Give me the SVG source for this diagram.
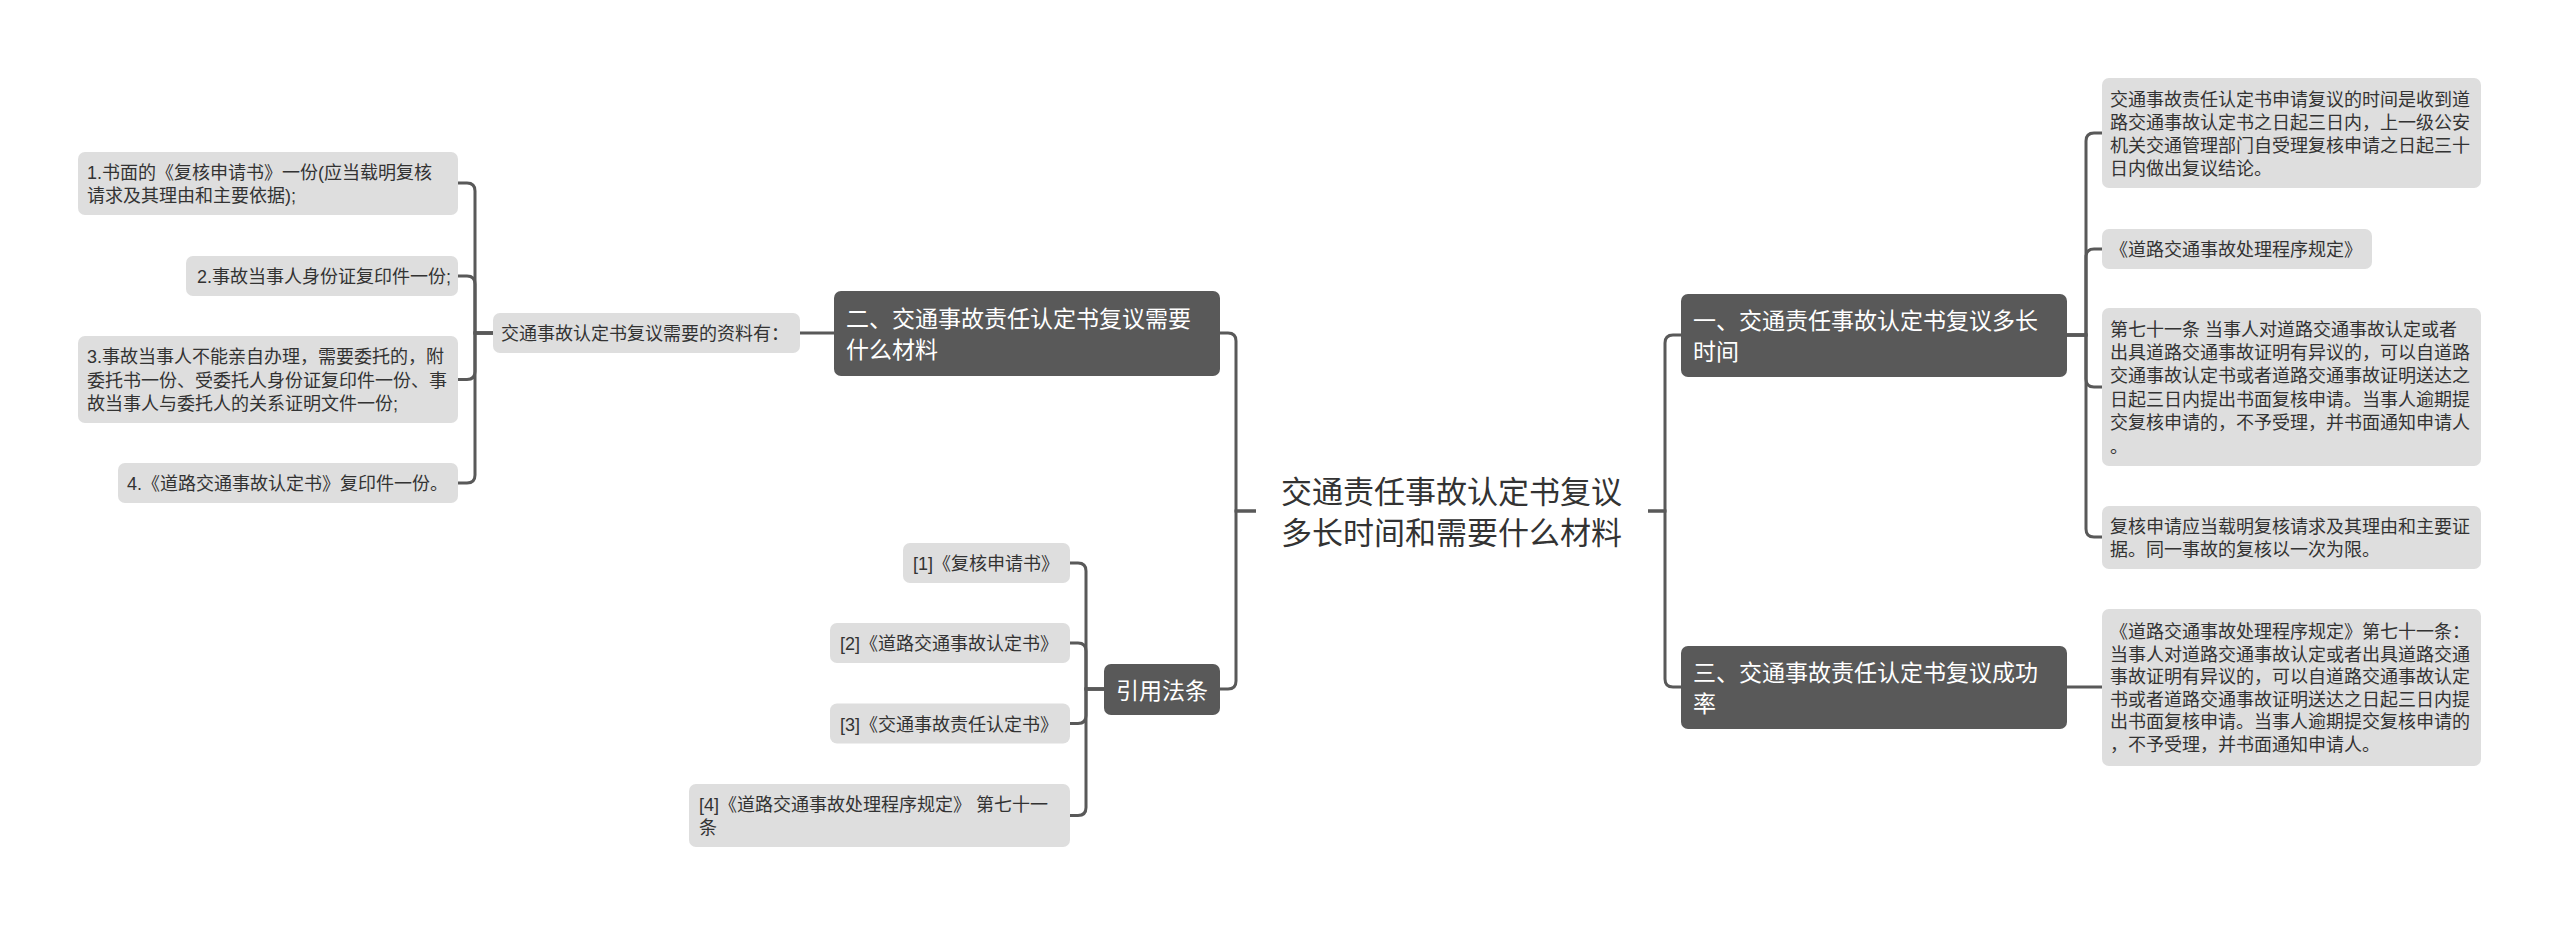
<svg xmlns="http://www.w3.org/2000/svg" width="2560" height="926" viewBox="0 0 2560 926">
<style>
text{font-family:"Liberation Sans","Noto Sans CJK SC",sans-serif}
.lt{fill:#dedede}
.dk{fill:#595959}
.t{font-size:18px;fill:#333333}
.w{font-size:23px;fill:#ffffff}
.c{font-size:31px;fill:#333333}
.ln{fill:none;stroke:#595959;stroke-width:3}
</style>
<rect width="2560" height="926" fill="#ffffff"/>
<g id="connectors">
<path class="ln" d="M493,333 H475 V191 Q475,183 467,183 H458"/>
<path class="ln" d="M493,333 H475 V284 Q475,276 467,276 H458"/>
<path class="ln" d="M493,333 H475 V371.5 Q475,379.5 467,379.5 H458"/>
<path class="ln" d="M493,333 H475 V475 Q475,483 467,483 H458"/>
<path class="ln" d="M800,333 H834"/>
<path class="ln" d="M1256,511 H1236 V341 Q1236,333 1228,333 H1220"/>
<path class="ln" d="M1256,511 H1236 V681 Q1236,689 1228,689 H1220"/>
<path class="ln" d="M1104,689 H1086 V571 Q1086,563 1078,563 H1070"/>
<path class="ln" d="M1104,689 H1086 V651 Q1086,643 1078,643 H1070"/>
<path class="ln" d="M1104,689 H1086 V715.5 Q1086,723.5 1078,723.5 H1070"/>
<path class="ln" d="M1104,689 H1086 V807.5 Q1086,815.5 1078,815.5 H1070"/>
<path class="ln" d="M1648,511 H1665 V343 Q1665,335 1673,335 H1681"/>
<path class="ln" d="M1648,511 H1665 V679 Q1665,687 1673,687 H1681"/>
<path class="ln" d="M2067,335 H2086 V141 Q2086,133 2094,133 H2102"/>
<path class="ln" d="M2067,335 H2086 V257 Q2086,249 2094,249 H2102"/>
<path class="ln" d="M2067,335 H2086 V379 Q2086,387 2094,387 H2102"/>
<path class="ln" d="M2067,335 H2086 V529 Q2086,537 2094,537 H2102"/>
<path class="ln" d="M2067,687 H2102"/>
</g>
<g id="center">
<text class="c" x="1281" y="503">交通责任事故认定书复议</text>
<text class="c" x="1281" y="544">多长时间和需要什么材料</text>
</g>
<g id="n-er">
<rect class="dk" x="834" y="291" width="386" height="85" rx="7"/>
<text class="w" x="846" y="327">二、交通事故责任认定书复议需要</text>
<text class="w" x="846" y="358">什么材料</text>
</g>
<g id="n-ziliao">
<rect class="lt" x="493" y="313" width="307" height="40" rx="7"/>
<text class="t" x="501" y="340">交通事故认定书复议需要的资料有：</text>
</g>
<g id="n-l1">
<rect class="lt" x="78" y="152" width="380" height="63" rx="7"/>
<text class="t" x="87" y="179">1.书面的《复核申请书》一份(应当载明复核</text>
<text class="t" x="87" y="202">请求及其理由和主要依据);</text>
</g>
<g id="n-l2">
<rect class="lt" x="186" y="256" width="272" height="40" rx="7"/>
<text class="t" x="197" y="283">2.事故当事人身份证复印件一份;</text>
</g>
<g id="n-l3">
<rect class="lt" x="78" y="336" width="380" height="87" rx="7"/>
<text class="t" x="87" y="363">3.事故当事人不能亲自办理，需要委托的，附</text>
<text class="t" x="87" y="386.5">委托书一份、受委托人身份证复印件一份、事</text>
<text class="t" x="87" y="410">故当事人与委托人的关系证明文件一份;</text>
</g>
<g id="n-l4">
<rect class="lt" x="118" y="463" width="340" height="40" rx="7"/>
<text class="t" x="127" y="490">4.《道路交通事故认定书》复印件一份。</text>
</g>
<g id="n-yinyong">
<rect class="dk" x="1104" y="664" width="116" height="51" rx="7"/>
<text class="w" x="1116" y="698.5">引用法条</text>
</g>
<g id="n-r1">
<rect class="lt" x="903" y="543" width="167" height="40" rx="7"/>
<text class="t" x="913" y="570">[1]《复核申请书》</text>
</g>
<g id="n-r2">
<rect class="lt" x="830" y="623" width="240" height="40" rx="7"/>
<text class="t" x="840" y="650">[2]《道路交通事故认定书》</text>
</g>
<g id="n-r3">
<rect class="lt" x="830" y="703.5" width="240" height="40" rx="7"/>
<text class="t" x="840" y="730.5">[3]《交通事故责任认定书》</text>
</g>
<g id="n-r4">
<rect class="lt" x="689" y="784" width="381" height="63" rx="7"/>
<text class="t" x="699" y="811">[4]《道路交通事故处理程序规定》 第七十一</text>
<text class="t" x="699" y="834">条</text>
</g>
<g id="n-yi">
<rect class="dk" x="1681" y="294" width="386" height="83" rx="7"/>
<text class="w" x="1693" y="329">一、交通责任事故认定书复议多长</text>
<text class="w" x="1693" y="360">时间</text>
</g>
<g id="n-san">
<rect class="dk" x="1681" y="646" width="386" height="83" rx="7"/>
<text class="w" x="1693" y="681">三、交通事故责任认定书复议成功</text>
<text class="w" x="1693" y="712">率</text>
</g>
<g id="n-a1">
<rect class="lt" x="2102" y="78" width="379" height="110" rx="7"/>
<text class="t" x="2110" y="105.5">交通事故责任认定书申请复议的时间是收到道</text>
<text class="t" x="2110" y="128.5">路交通事故认定书之日起三日内，上一级公安</text>
<text class="t" x="2110" y="151.5">机关交通管理部门自受理复核申请之日起三十</text>
<text class="t" x="2110" y="174.5">日内做出复议结论。</text>
</g>
<g id="n-a2">
<rect class="lt" x="2102" y="229" width="270" height="40" rx="7"/>
<text class="t" x="2110" y="256">《道路交通事故处理程序规定》</text>
</g>
<g id="n-a3">
<rect class="lt" x="2102" y="308" width="379" height="158" rx="7"/>
<text class="t" x="2110" y="335.5">第七十一条 当事人对道路交通事故认定或者</text>
<text class="t" x="2110" y="358.9">出具道路交通事故证明有异议的，可以自道路</text>
<text class="t" x="2110" y="382.3">交通事故认定书或者道路交通事故证明送达之</text>
<text class="t" x="2110" y="405.7">日起三日内提出书面复核申请。当事人逾期提</text>
<text class="t" x="2110" y="429.1">交复核申请的，不予受理，并书面通知申请人</text>
<text class="t" x="2110" y="452.5">。</text>
</g>
<g id="n-a4">
<rect class="lt" x="2102" y="506" width="379" height="63" rx="7"/>
<text class="t" x="2110" y="532.5">复核申请应当载明复核请求及其理由和主要证</text>
<text class="t" x="2110" y="555.5">据。同一事故的复核以一次为限。</text>
</g>
<g id="n-a5">
<rect class="lt" x="2102" y="609" width="379" height="157" rx="7"/>
<text class="t" x="2110" y="638">《道路交通事故处理程序规定》第七十一条：</text>
<text class="t" x="2110" y="660.6">当事人对道路交通事故认定或者出具道路交通</text>
<text class="t" x="2110" y="683.2">事故证明有异议的，可以自道路交通事故认定</text>
<text class="t" x="2110" y="705.8">书或者道路交通事故证明送达之日起三日内提</text>
<text class="t" x="2110" y="728.4">出书面复核申请。当事人逾期提交复核申请的</text>
<text class="t" x="2110" y="751">，不予受理，并书面通知申请人。</text>
</g>
</svg>
